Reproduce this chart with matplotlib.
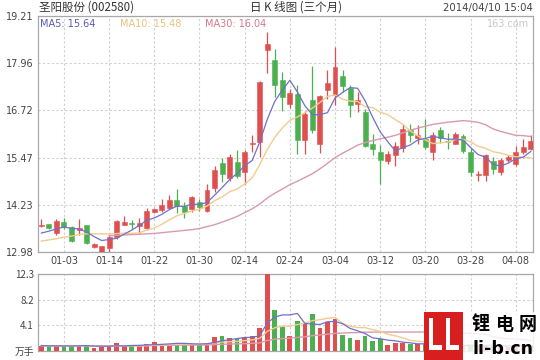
import matplotlib
matplotlib.use('Agg')
import matplotlib.pyplot as plt
from matplotlib.patches import Rectangle
import numpy as np
import pandas as pd

# ---------------- data ----------------
opens = [13.66, 13.71, 13.48, 13.78, 13.64, 13.55, 13.68, 13.11, 12.99, 13.08,
         13.37, 13.70, 13.73, 13.66, 13.62, 14.04, 14.10, 14.15, 14.34, 14.20,
         14.12, 14.31, 14.07, 14.67, 15.34, 14.93, 15.35, 15.09, 15.84, 15.88,
         18.30, 18.04, 17.51, 16.90, 17.16, 15.93, 16.98, 15.84, 17.25, 17.12,
         17.62, 17.30, 16.90, 16.68, 15.82, 15.62, 15.39, 15.53, 15.73, 16.21,
         15.99, 15.97, 15.62, 16.19, 15.91, 15.84, 16.03, 15.62, 15.01, 15.00,
         15.38, 15.09, 15.40, 15.31, 15.62, 15.71]
highs = [13.86, 13.73, 13.84, 13.88, 13.66, 13.86, 13.70, 13.22, 13.15, 13.42,
         13.83, 13.92, 13.82, 13.88, 14.13, 14.14, 14.38, 14.48, 14.65, 14.30,
         14.45, 14.37, 14.78, 15.26, 15.47, 15.57, 15.68, 15.66, 16.06, 17.50,
         18.80, 18.35, 17.72, 17.29, 17.38, 16.70, 17.88, 17.12, 17.78, 18.39,
         17.78, 17.40, 17.21, 16.75, 16.10, 15.80, 15.65, 15.88, 16.36, 16.37,
         16.33, 16.48, 16.14, 16.28, 16.12, 16.14, 16.10, 15.72, 15.13, 15.57,
         15.48, 15.45, 15.55, 15.79, 15.97, 16.08]
lows = [13.64, 13.58, 13.42, 13.58, 13.24, 13.42, 13.20, 13.09, 12.98, 12.99,
        13.33, 13.68, 13.60, 13.45, 13.57, 14.02, 14.04, 14.12, 14.00, 13.88,
        14.04, 14.06, 14.03, 14.56, 14.82, 14.86, 14.93, 14.78, 15.62, 15.48,
        17.70, 17.07, 16.70, 16.79, 15.57, 15.57, 16.12, 15.59, 17.03, 16.85,
        17.20, 16.54, 16.68, 15.75, 15.53, 14.78, 15.30, 15.26, 15.62, 15.88,
        15.82, 15.70, 15.40, 15.85, 15.70, 15.82, 15.60, 14.99, 14.85, 14.86,
        15.04, 15.02, 15.35, 15.26, 15.57, 15.68]
closes = [13.70, 13.62, 13.80, 13.64, 13.26, 13.62, 13.22, 13.19, 13.13, 13.38,
          13.80, 13.76, 13.72, 13.75, 14.06, 14.11, 14.23, 14.35, 14.20, 14.03,
          14.42, 14.17, 14.62, 15.15, 15.04, 15.48, 14.99, 15.61, 15.87, 17.47,
          18.46, 17.38, 17.08, 17.18, 15.93, 16.63, 16.20, 17.09, 17.44, 17.87,
          17.35, 16.85, 17.00, 15.79, 15.70, 15.42, 15.56, 15.77, 16.22, 16.06,
          16.08, 15.75, 16.08, 15.99, 15.88, 16.10, 15.64, 15.10, 15.04, 15.53,
          15.16, 15.40, 15.50, 15.61, 15.75, 15.91]
volumes = [0.81, 0.75, 0.75, 0.75, 0.75, 0.92, 0.92, 0.38, 0.65, 0.75,
           1.29, 0.75, 0.75, 0.75, 1.08, 1.45, 1.08, 1.08, 1.20, 1.08,
           1.08, 0.92, 1.29, 2.26, 2.37, 1.99, 1.83, 2.15, 2.37, 3.61,
           12.28, 6.56, 3.87, 2.37, 4.84, 4.30, 5.92, 3.60, 4.58, 5.06,
           2.53, 2.10, 1.73, 2.30, 1.60, 1.90, 0.95, 1.20, 1.20, 1.05,
           1.10, 1.00, 0.90, 0.80, 0.70, 0.80, 0.80, 1.00, 0.70, 0.90,
           0.70, 0.80, 0.60, 0.80, 0.90, 0.90]
# moving-average values at the start of the window (history before the chart)
ma5_head = [13.48, 13.53, 13.59, 13.64]
ma10_head = [13.27, 13.30, 13.33, 13.37, 13.40, 13.44, 13.46, 13.46, 13.46]
ma30_head = [13.41, 13.42, 13.43, 13.44, 13.45, 13.46, 13.47, 13.49, 13.51, 13.53,
             13.55, 13.57, 13.60, 13.65, 13.70, 13.77, 13.84, 13.92, 14.02, 14.12]
ma30_start = 9

tick_pos = [3, 9, 15, 21, 27, 33, 39, 45, 51, 57, 63]
tick_labels = ['01-03', '01-14', '01-22', '01-30', '02-14', '02-24',
               '03-04', '03-12', '03-20', '03-28', '04-08']
price_ticks = [12.98, 14.23, 15.47, 16.72, 17.96, 19.21]
vol_ticks = [0, 4.1, 8.2, 12.3]
vol_tick_labels = ['万手', '4.1', '8.2', '12.3']
legend_labels = ['MA5: 15.64', 'MA10: 15.48', 'MA30: 16.04']
title_left = '圣阳股份 (002580)'
title_mid = '日 K 线图 (三个月)'
title_right = '2014/04/10 15:04'

# ---------------- style ----------------
RED = '#e04f4f'
GREEN = '#4cb050'
C_MA5 = '#7070cc'
C_MA10 = '#f2cc90'
C_MA30 = '#d89aae'
LEG_COLORS = ['#5a5ab8', '#e8c27a', '#d87888']
GRID = '#cfcfcf'
SPINE = '#a8a8a8'
TXT = '#444444'
CJK = ['Noto Sans CJK SC', 'DejaVu Sans']

W, H = 540, 360
fig = plt.figure(figsize=(W / 100, H / 100), dpi=100)
fig.patch.set_facecolor('white')


def rect(l, t, r, b):
    return [l / W, 1 - b / H, (r - l) / W, (b - t) / H]


ax = fig.add_axes(rect(38, 16, 533, 252))
axv = fig.add_axes(rect(38, 274, 533, 350.7))

n = len(closes)
x = np.arange(n)
o = np.array(opens); c = np.array(closes); h = np.array(highs); l = np.array(lows)
up = c >= o
colors = [RED if u else GREEN for u in up]

# candles
for i in range(n):
    ax.vlines(x[i], l[i], h[i], color=colors[i], lw=0.9, zorder=3)
    bottom = min(o[i], c[i])
    height = max(abs(c[i] - o[i]), 0.025)
    ax.add_patch(Rectangle((x[i] - 0.33, bottom), 0.66, height,
                           facecolor=colors[i], edgecolor=colors[i], lw=0.4, zorder=4))

# moving averages
cs = pd.Series(closes)
ma5 = cs.rolling(5).mean().to_numpy()
ma5[:len(ma5_head)] = ma5_head
ma10 = cs.rolling(10).mean().to_numpy()
ma10[:len(ma10_head)] = ma10_head
ma30 = cs.rolling(30).mean().to_numpy()
ma30[:ma30_start] = np.nan
ma30[ma30_start:ma30_start + len(ma30_head)] = ma30_head
ax.plot(x, ma30, color=C_MA30, lw=1.0, zorder=5)
ax.plot(x, ma10, color=C_MA10, lw=1.0, zorder=5)
ax.plot(x, ma5, color=C_MA5, lw=0.9, zorder=6)

# volume
axv.bar(x, volumes, width=0.62, color=colors, zorder=3)
vs = pd.Series(volumes)
axv.plot(x, vs.rolling(30, min_periods=1).mean(), color=C_MA30, lw=1.0, zorder=5)
axv.plot(x, vs.rolling(10, min_periods=1).mean(), color=C_MA10, lw=1.0, zorder=5)
axv.plot(x, vs.rolling(5, min_periods=1).mean(), color=C_MA5, lw=0.9, zorder=6)

for a in (ax, axv):
    a.set_xlim(-0.45, 65.3)
    a.set_xticks(tick_pos)
    a.grid(True, color=GRID, lw=0.8, linestyle=(0, (2, 2)), zorder=0)
    a.set_axisbelow(True)
    for s in a.spines.values():
        s.set_color(SPINE)
        s.set_linewidth(0.9)
    a.tick_params(length=0, labelsize=7, colors=TXT, pad=3)

ax.set_ylim(price_ticks[0], price_ticks[-1])
ax.set_yticks(price_ticks)
ax.set_yticklabels(['%.2f' % t for t in price_ticks])
ax.set_xticklabels(tick_labels)
ax.tick_params(axis='x', pad=3)

axv.set_ylim(vol_ticks[0], vol_ticks[-1])
axv.set_yticks(vol_ticks)
axv.set_yticklabels(vol_tick_labels)
for t in axv.get_yticklabels():
    t.set_family(CJK)
axv.set_xticklabels([])

# header texts
fig.text(39 / W, 1 - 7.5 / H, title_left, family=CJK, fontsize=8.3, color='#333333',
         ha='left', va='center')
fig.text(296 / W, 1 - 7.5 / H, title_mid, family=CJK, fontsize=8.3, color='#333333',
         ha='center', va='center')
fig.text(533 / W, 1 - 7.5 / H, title_right, fontsize=7.3, color='#444444',
         ha='right', va='center')
fig.text(529 / W, 1 - 24 / H, '163.com', fontsize=7, color='#c8c8c8',
         ha='right', va='center')
for xp, lab, col in zip([40, 120, 205], legend_labels, LEG_COLORS):
    fig.text(xp / W, 1 - 24 / H, lab, fontsize=7, color=col, ha='left', va='center')

# watermark logo (bottom right)
tf = fig.transFigure


def prect(l, t, r, b, **kw):
    fig.patches.append(Rectangle((l / W, 1 - b / H), (r - l) / W, (b - t) / H,
                                 transform=tf, **kw))


prect(424, 312, 463, 360, facecolor='#d81e1e', edgecolor='none', zorder=10)
prect(429, 318, 442, 350, facecolor='white', edgecolor='none', zorder=11)
prect(433, 318, 442, 345, facecolor='#d81e1e', edgecolor='none', zorder=12)
prect(446, 318, 459, 350, facecolor='white', edgecolor='none', zorder=11)
prect(450, 318, 459, 345, facecolor='#d81e1e', edgecolor='none', zorder=12)
prect(463, 312, 540, 360, facecolor='white', edgecolor='none', alpha=0.82, zorder=10)
for xc, ch in zip([481, 505, 528], ['锂', '电', '网']):
    fig.text(xc / W, 1 - 324 / H, ch, family=CJK, fontsize=13, fontweight='bold',
             color='black', ha='center', va='center', zorder=13)
fig.text(503 / W, 1 - 349 / H, 'li-b.cn', fontsize=12.5, fontweight='bold',
         color='black', ha='center', va='center', zorder=13)

fig.savefig('out.png', dpi=100, facecolor='white')
